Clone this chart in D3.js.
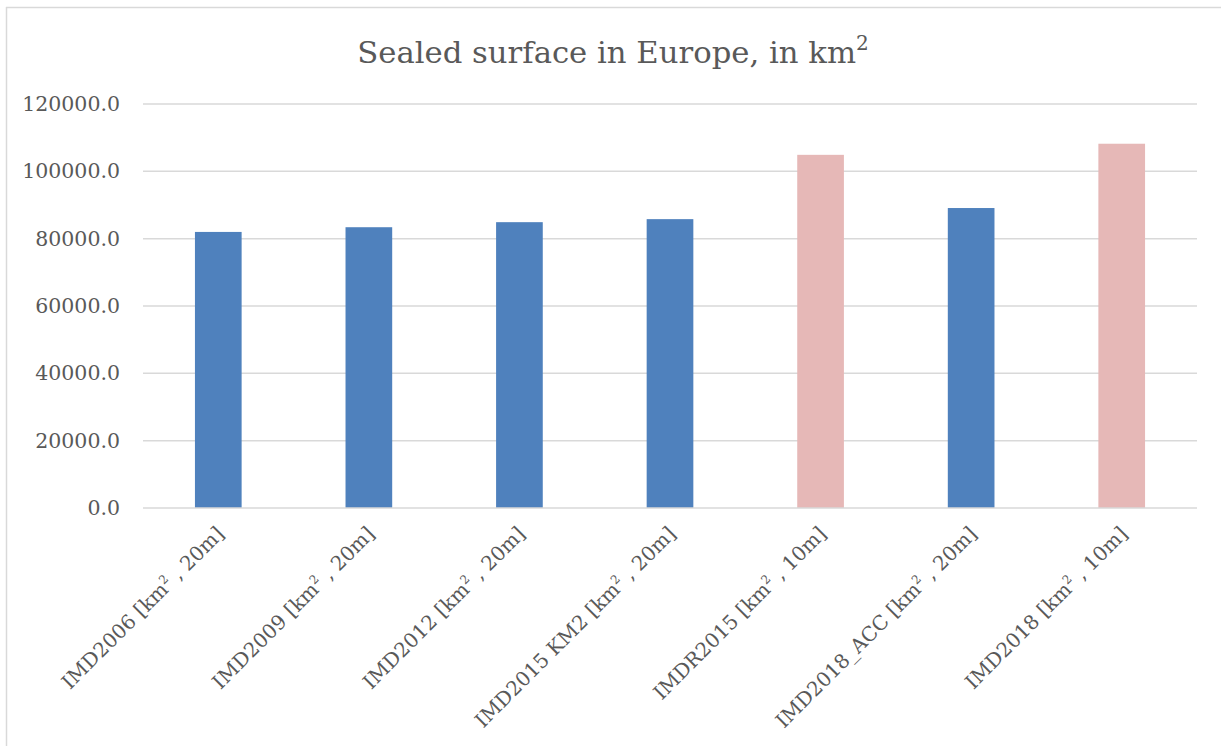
<!DOCTYPE html>
<html><head><meta charset="utf-8">
<script src="https://cdn.jsdelivr.net/npm/d3@7"></script>
<style>html,body{margin:0;padding:0;background:#fff;}svg{display:block;}</style>
</head><body><svg id="c" width="1221" height="746"></svg>
<script>
const categories = ["IMD2006", "IMD2009", "IMD2012", "IMD2015 KM2", "IMDR2015", "IMD2018_ACC", "IMD2018"];
const resolutions = ["20m", "20m", "20m", "20m", "10m", "20m", "10m"];
const values = [82000, 83400, 84900, 85800, 104900, 89100, 108200];
const highlight = [false, false, false, false, true, false, true];
const yTicks = [0, 20000, 40000, 60000, 80000, 100000, 120000];
const title = "Sealed surface in Europe, in km";

const svg = d3.select("#c");
const W = 1221, H = 746;
const m = {left: 143, right: 1197, top: 104, bottom: 508};
const font = "'DejaVu Serif', serif";
const textColor = "#595959";

// chart frame (top and left edges)
svg.append("line").attr("x1", 6).attr("x2", W).attr("y1", 7.5).attr("y2", 7.5).attr("stroke", "#d9d9d9").attr("stroke-width", 1.5);
svg.append("line").attr("x1", 6.5).attr("x2", 6.5).attr("y1", 7).attr("y2", H).attr("stroke", "#d9d9d9").attr("stroke-width", 1.5);

const x = d3.scaleBand().domain(categories).range([m.left, m.right]).paddingInner(0.69).paddingOuter(0.345);
const y = d3.scaleLinear().domain([0, 120000]).range([m.bottom, m.top]);

// gridlines
svg.append("g").selectAll("line").data(yTicks.filter(d => d > 0)).join("line")
  .attr("x1", m.left).attr("x2", m.right)
  .attr("y1", d => y(d)).attr("y2", d => y(d))
  .attr("stroke", "#d9d9d9").attr("stroke-width", 1.5);

// bars
svg.append("g").selectAll("rect").data(values).join("rect")
  .attr("x", (d, i) => x(categories[i]))
  .attr("width", x.bandwidth())
  .attr("y", d => y(d))
  .attr("height", d => y(0) - y(d))
  .attr("fill", (d, i) => highlight[i] ? "#e6b8b7" : "#4f81bd");

// x axis baseline
svg.append("line").attr("x1", m.left).attr("x2", m.right).attr("y1", y(0)).attr("y2", y(0)).attr("stroke", "#d9d9d9").attr("stroke-width", 1.5);

// y axis labels
const yAxis = d3.axisLeft(y).tickValues(yTicks).tickSize(0).tickPadding(0).tickFormat(d3.format(".1f"));
const yg = svg.append("g").attr("transform", `translate(${m.left - 23},0)`).call(yAxis);
yg.select(".domain").remove();
yg.selectAll("text").attr("font-family", font).attr("font-size", 20.5).attr("fill", textColor);

// x labels
const xl = svg.append("g").selectAll("text").data(categories).join("text")
  .attr("transform", (d) => `translate(${x(d) + x.bandwidth() / 2 + 2},530) rotate(-45)`)
  .attr("text-anchor", "end")
  .attr("dy", "0.35em")
  .attr("font-family", font).attr("font-size", 20).attr("fill", textColor);
xl.append("tspan").text(d => d + " [km");
xl.append("tspan").attr("font-size", 12).attr("dy", -8).text("2");
xl.append("tspan").attr("dy", 8).text((d, i) => " , " + resolutions[i] + "]");

// title
const t = svg.append("text").attr("x", 613).attr("y", 63)
  .attr("text-anchor", "middle").attr("font-family", font).attr("font-size", 30.7).attr("fill", textColor);
t.append("tspan").text(title);
t.append("tspan").attr("font-size", 20).attr("dy", -13).text("2");
</script></body></html>
